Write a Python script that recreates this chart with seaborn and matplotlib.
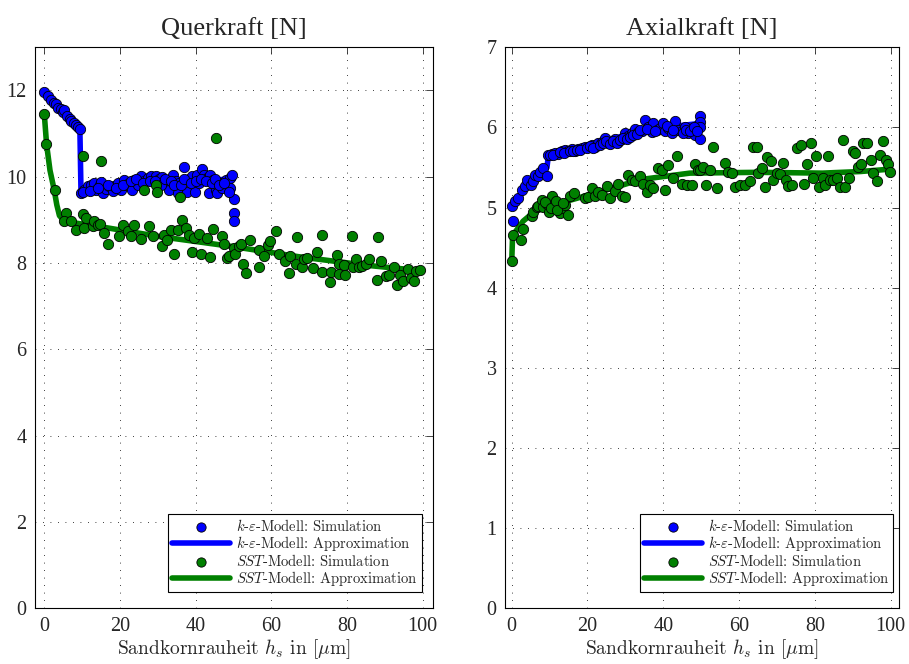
import numpy as np
import pandas as pd
import matplotlib
matplotlib.use("Agg")
import matplotlib.pyplot as plt
import seaborn as sns

# ---------------- data: Querkraft (left) ----------------
q_ke_sim_x = [0, 1.0, 1.8, 2.5, 3.2, 3.6, 4.5, 4.9, 5.3, 6.0, 6.7, 7.1, 7.8, 8.4, 8.9, 9.4,
              9.7, 10.6, 11.5, 12.4, 13.2, 13.7, 14.6, 15.0, 15.4, 16.3, 17.2, 18.1, 18.5, 19.6,
              20.3, 21.1, 21.6, 22.4, 23.3, 23.8, 24.7, 25.5, 26.4, 27.3, 28.2, 28.9, 29.5, 30.3,
              31.2, 32.1, 33.0, 33.9, 34.7, 35.2, 35.6, 36.9, 37.6, 38.2, 39.1, 39.7, 40.4, 40.9,
              41.8, 42.2, 43.1, 43.5, 43.9, 44.6, 45.3, 45.7, 46.6, 47.0, 47.9, 48.3, 49.0, 49.6,
              49.2, 50.0, 50.0, 50.0,
              10.2, 12.0, 14.2, 16.8, 19.0, 20.8, 22.8, 24.2, 26.0, 27.8, 29.2, 30.8, 31.8, 33.5,
              34.2, 36.2, 37.0, 38.8, 40.0, 41.3, 42.7, 44.2, 45.0, 46.2, 47.5, 48.7]
q_ke_sim_y = [11.96, 11.87, 11.78, 11.71, 11.68, 11.60, 11.56, 11.50, 11.55, 11.41, 11.34, 11.29,
              11.25, 11.21, 11.16, 11.10,
              9.63, 9.70, 9.78, 9.82, 9.86, 9.70, 9.82, 9.87, 9.63, 9.72, 9.78, 9.66, 9.78, 9.86,
              9.70, 9.92, 9.82, 9.86, 9.70, 9.92, 9.82, 10.01, 9.90, 9.97, 10.01, 9.92, 10.01, 9.95,
              10.00, 9.90, 9.70, 10.03, 9.90, 9.63, 9.86, 10.23, 9.64, 9.95, 10.01, 9.64, 10.03, 9.86,
              10.18, 10.05, 9.97, 9.63, 10.05, 9.92, 9.70, 9.63, 9.86, 9.74, 9.92, 9.86, 9.97, 10.03,
              9.74, 9.49, 9.16, 8.97,
              9.65, 9.68, 9.75, 9.80, 9.75, 9.80, 9.90, 9.95, 9.85, 9.90, 9.90, 9.80, 9.95, 9.90,
              9.80, 9.80, 9.95, 9.85, 9.90, 9.95, 9.90, 9.85, 9.95, 9.80, 9.85, 9.65]
q_ke_fit_x = [0, 2, 4, 6, 8, 9.4, 9.7, 12, 20, 30, 40, 50]
q_ke_fit_y = [11.95, 11.76, 11.57, 11.41, 11.24, 11.10, 9.63, 9.70, 9.78, 9.86, 9.90, 9.95]

q_sst_sim_x = [0, 0.5, 2.7, 5.8, 5.3, 7.1, 8.4, 10.2, 11.0, 10.6, 12.8, 13.2, 14.1, 14.6,
               15.9, 16.8, 10.2, 15.0, 20.7, 19.8, 22.0, 22.9, 23.8, 25.5, 27.7, 28.6, 31.2, 31.7,
               32.5, 33.4, 34.3, 35.2, 36.5, 37.4, 38.2, 39.1, 39.6, 40.9, 41.3, 43.1, 43.9, 44.6,
               47.0, 47.5, 48.3, 48.8, 50.1, 50.5, 51.4, 52.0, 52.5, 53.4, 54.3, 56.7, 56.8, 58.0,
               59.0, 59.7, 61.3, 61.9, 63.7, 64.6, 64.9, 66.8, 66.6, 68.1, 68.6, 69.3, 71.1, 72.0,
               73.3, 73.5, 75.5, 75.8, 77.3, 77.8, 78.0, 79.1, 79.4, 81.2, 81.6, 82.4, 83.1, 84.0,
               85.1, 85.8, 87.8, 88.2, 88.9, 90.4, 91.1, 92.4, 93.1, 93.9, 94.8, 96.1, 97.0, 97.8,
               98.2, 99.4, 26.4, 29.5, 29.9, 35.9, 45.3]
q_sst_sim_y = [11.46, 10.75, 9.69, 9.16, 8.97, 8.98, 8.77, 9.14, 9.05, 8.81, 8.85, 8.97, 8.89, 8.91,
               8.70, 8.45, 10.48, 10.36, 8.89, 8.62, 8.74, 8.62, 8.89, 8.56, 8.87, 8.62, 8.39, 8.66,
               8.54, 8.77, 8.21, 8.76, 8.99, 8.81, 8.66, 8.25, 8.58, 8.68, 8.21, 8.58, 8.14, 8.79,
               8.63, 8.45, 8.12, 8.16, 8.35, 8.20, 8.39, 8.44, 7.99, 7.77, 8.53, 7.92, 8.31, 8.17,
               8.43, 8.50, 8.74, 8.22, 8.04, 7.77, 8.17, 8.60, 7.97, 7.92, 8.10, 8.12, 7.88, 8.25,
               8.66, 7.80, 7.55, 7.80, 8.19, 7.97, 7.74, 7.95, 7.72, 8.63, 7.90, 8.09, 7.90, 7.93,
               7.97, 8.10, 7.61, 8.60, 8.04, 7.69, 7.73, 7.90, 7.50, 7.72, 7.59, 7.86, 7.66, 7.59,
               7.82, 7.84, 9.69, 9.80, 9.65, 9.53, 10.90]
q_sst_fit_x = [0, 0.6, 1.5, 2.6, 3.3, 4.0, 5.0, 8.0, 15, 30, 50, 67, 85, 100]
q_sst_fit_y = [11.45, 10.75, 10.15, 9.70, 9.35, 9.10, 9.00, 8.93, 8.84, 8.62, 8.38, 8.15, 7.95, 7.82]

# ---------------- data: Axialkraft (right) ----------------
a_ke_sim_x = [0.3, 0, 0.9, 1.7, 2.6, 3.5, 4.0, 5.0, 5.7, 6.2, 7.0, 7.5, 8.3, 9.2, 9.7, 10.6, 11.4,
              12.3, 13.2, 14.1, 14.9, 15.8, 16.7, 17.6, 18.5, 19.3, 20.2, 21.1, 22.0, 22.8, 23.7,
              24.6, 25.5, 26.4, 27.3, 28.1, 29.0, 29.9, 30.8, 31.7, 32.5, 33.4, 34.3, 35.2, 36.0,
              36.9, 37.4, 38.3, 39.1, 39.8, 40.4, 41.3, 42.2, 43.1, 44.0, 44.9, 45.7, 46.6, 47.5,
              48.4, 49.2, 49.7, 49.7, 49.7, 49.7,
              10.2, 11.0, 12.8, 13.7, 15.3, 16.2, 17.1, 18.0, 19.8, 20.7, 21.5, 23.2, 24.1, 25.0,
              26.0, 26.8, 27.7, 28.5, 29.4, 30.3, 31.2, 32.0, 33.0, 33.8, 35.6, 37.8, 40.9, 42.6,
              45.3, 46.1, 47.0, 48.0, 48.8]
a_ke_sim_y = [4.83, 5.02, 5.08, 5.12, 5.22, 5.27, 5.35, 5.28, 5.33, 5.41, 5.39, 5.45, 5.49, 5.40,
              5.66, 5.67, 5.68, 5.67, 5.70, 5.72, 5.70, 5.73, 5.71, 5.73, 5.74, 5.76, 5.75, 5.78,
              5.76, 5.80, 5.82, 5.87, 5.80, 5.82, 5.85, 5.82, 5.85, 5.93, 5.89, 5.93, 5.98, 5.94,
              5.95, 6.09, 6.01, 5.94, 6.06, 5.97, 5.99, 6.05, 5.95, 5.99, 5.93, 6.08, 5.97, 5.95,
              6.01, 5.93, 5.97, 5.91, 6.03, 6.14, 6.07, 6.01, 5.85,
              5.66, 5.66, 5.69, 5.68, 5.71, 5.70, 5.72, 5.72, 5.74, 5.77, 5.74, 5.78, 5.80, 5.83,
              5.79, 5.83, 5.80, 5.84, 5.87, 5.86, 5.88, 5.90, 5.92, 5.97, 5.98, 5.96, 6.02, 5.97,
              5.93, 5.97, 5.95, 6.00, 5.95]
a_ke_fit_x = [0, 2, 4, 6, 8, 9.3, 9.7, 14.5, 23, 32, 36, 42, 49.7]
a_ke_fit_y = [5.00, 5.13, 5.27, 5.37, 5.45, 5.50, 5.66, 5.71, 5.81, 5.93, 5.98, 6.01, 6.05]

a_sst_sim_x = [0, 0.4, 2.4, 2.9, 5.3, 5.7, 6.6, 7.0, 7.9, 8.3, 9.2, 9.9, 10.1, 10.55, 11.0, 11.4,
               12.3, 12.7, 13.2, 14.1, 14.9, 15.4, 16.4, 19.3, 20.2, 21.1, 22.0, 22.8, 23.7, 25.1,
               25.9, 27.3, 28.1, 29.0, 29.9, 30.8, 31.7, 32.6, 33.9, 34.7, 35.6, 36.5, 37.4, 38.7,
               39.6, 40.4, 41.3, 42.6, 43.7, 44.9, 46.2, 47.5, 48.4, 49.2, 49.7, 50.6, 51.4, 52.3,
               53.2, 54.1, 56.3, 57.2, 58.0, 58.9, 60.2, 61.6, 62.9, 63.7, 64.6, 65.1, 66.0, 66.8,
               67.4, 68.3, 69.0, 70.1, 70.8, 71.7, 72.4, 73.0, 73.9, 75.4, 76.3, 77.1, 77.8, 78.9,
               79.6, 80.3, 81.2, 82.1, 82.7, 83.5, 84.0, 84.9, 85.8, 86.6, 87.5, 88.0, 89.1, 90.0,
               90.6, 91.5, 92.3, 92.8, 93.7, 94.7, 95.4, 96.3, 97.2, 97.9, 98.9, 99.4, 99.8,
               8.8, 10.5, 11.8, 12.0, 13.6]
a_sst_sim_y = [4.33, 4.66, 4.59, 4.73, 4.89, 4.95, 5.01, 5.02, 5.10, 5.01, 5.05, 4.95, 5.10, 5.14,
               5.03, 5.01, 5.05, 4.93, 4.99, 5.03, 4.91, 5.14, 5.18, 5.12, 5.13, 5.24, 5.14, 5.20,
               5.16, 5.27, 5.12, 5.21, 5.30, 5.14, 5.13, 5.41, 5.35, 5.33, 5.39, 5.30, 5.20, 5.28,
               5.24, 5.49, 5.47, 5.22, 5.53, 5.37, 5.64, 5.30, 5.28, 5.28, 5.55, 5.47, 5.47, 5.51,
               5.28, 5.47, 5.75, 5.24, 5.56, 5.44, 5.43, 5.26, 5.28, 5.28, 5.33, 5.76, 5.76, 5.43,
               5.50, 5.26, 5.63, 5.58, 5.34, 5.43, 5.42, 5.56, 5.35, 5.27, 5.28, 5.74, 5.78, 5.30,
               5.55, 5.81, 5.37, 5.64, 5.26, 5.37, 5.28, 5.64, 5.35, 5.35, 5.37, 5.26, 5.84, 5.26,
               5.37, 5.71, 5.68, 5.51, 5.55, 5.81, 5.80, 5.60, 5.43, 5.33, 5.65, 5.83, 5.60, 5.55,
               5.45,
               5.07, 5.00, 5.08, 4.97, 5.06]
a_sst_fit_x = [0, 0.2, 1, 3, 6, 10, 16, 25, 34, 47, 65, 82, 92, 100]
a_sst_fit_y = [4.32, 4.60, 4.70, 4.83, 4.95, 5.02, 5.10, 5.22, 5.35, 5.43, 5.44, 5.43, 5.45, 5.48]

titles = ["Querkraft [N]", "Axialkraft [N]"]
xlabel = r"Sandkornrauheit $h_s$ in [$\mu$m]"
labels = [r"$k$-$\varepsilon$-Modell: Simulation", r"$k$-$\varepsilon$-Modell: Approximation",
          r"$SST$-Modell: Simulation", r"$SST$-Modell: Approximation"]
x_ticks = [0, 20, 40, 60, 80, 100]
y_ticks = [[0, 2, 4, 6, 8, 10, 12], [0, 1, 2, 3, 4, 5, 6, 7]]

BLUE = "#0000ff"
GREEN = "#008000"

sns.set_style("white")
plt.rcParams["font.family"] = ["Liberation Serif", "DejaVu Serif"]
plt.rcParams["mathtext.fontset"] = "cm"

fig = plt.figure(figsize=(9.09, 6.64), dpi=100)
W, H = 909, 664
ax1 = fig.add_axes([35 / W, 1 - 608.3 / H, 397.7 / W, 561 / H])
ax2 = fig.add_axes([505 / W, 1 - 608.3 / H, 394 / W, 561 / H])

panels = [
    (ax1, q_ke_sim_x, q_ke_sim_y, q_ke_fit_x, q_ke_fit_y, q_sst_sim_x, q_sst_sim_y,
     q_sst_fit_x, q_sst_fit_y, (-2.46, 102.64), (0, 13), 0.972),
    (ax2, a_ke_sim_x, a_ke_sim_y, a_ke_fit_x, a_ke_fit_y, a_sst_sim_x, a_sst_sim_y,
     a_sst_fit_x, a_sst_fit_y, (-1.77, 102.2), (0, 7), 0.985),
]

for i, (ax, kx, ky, kfx, kfy, sx, sy, sfx, sfy, xl, yl, legx) in enumerate(panels):
    sns.scatterplot(x=kx, y=ky, color=BLUE, s=55, edgecolor="black", linewidth=0.6,
                    ax=ax, zorder=3, label=labels[0])
    sns.lineplot(x=kfx, y=kfy, color=BLUE, linewidth=4, sort=False, estimator=None,
                 ax=ax, zorder=2, label=labels[1])
    sns.scatterplot(x=sx, y=sy, color=GREEN, s=55, edgecolor="black", linewidth=0.6,
                    ax=ax, zorder=3, label=labels[2])
    sns.lineplot(x=sfx, y=sfy, color=GREEN, linewidth=4, sort=False, estimator=None,
                 ax=ax, zorder=2, label=labels[3])

    ax.set_xlim(*xl)
    ax.set_ylim(*yl)
    ax.set_xticks(x_ticks)
    ax.set_yticks(y_ticks[i])
    ax.grid(True, color="black", linestyle=(0, (1, 8)), linewidth=0.6)
    ax.set_axisbelow(True)
    ax.tick_params(direction="in", top=True, right=True, length=5, width=0.6,
                   labelsize=14.5, pad=6)
    for sp in ax.spines.values():
        sp.set_visible(True)
        sp.set_color("black")
        sp.set_linewidth(0.8)
    ax.set_title(titles[i], fontsize=19, pad=9)
    ax.set_xlabel(xlabel, fontsize=14, family=["cmr10", "DejaVu Serif"], labelpad=1)
    ax.set_ylabel("")
    leg = ax.legend(loc="lower right", bbox_to_anchor=(legx, 0.0296), borderaxespad=0,
                    frameon=True, fancybox=False, edgecolor="black", framealpha=1,
                    prop={"family": ["cmr10", "DejaVu Serif"], "size": 10.5},
                    handlelength=4.0, labelspacing=0.0, borderpad=0.25, handletextpad=0.4,
                    markerscale=0.9)
    leg.get_frame().set_linewidth(0.8)

fig.savefig("out.png", dpi=100)
